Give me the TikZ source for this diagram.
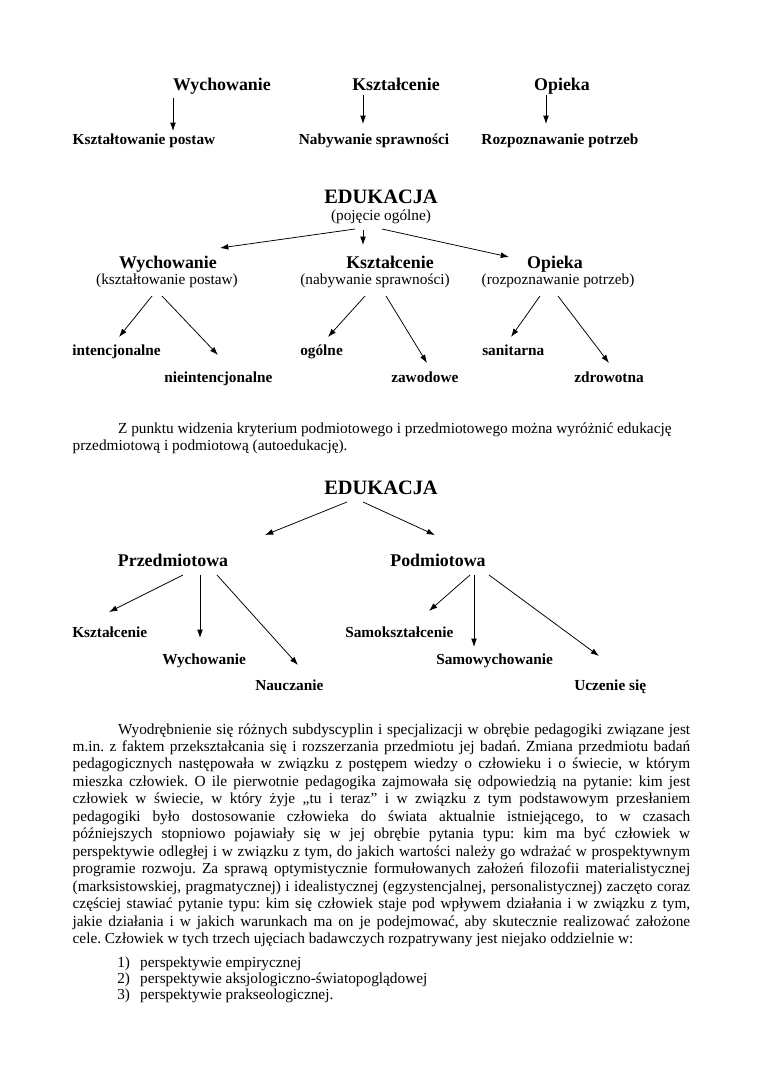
\documentclass[tikz,border=0pt]{standalone}
\usepackage{fontspec}
\setmainfont{Liberation Serif}
\usetikzlibrary{arrows.meta}
\tikzset{
  root/.style={font=\fontsize{16}{18}\selectfont\bfseries, inner sep=0, anchor=base},
  head/.style={font=\fontsize{14}{16}\selectfont\bfseries, inner sep=0, anchor=base},
  note/.style={font=\fontsize{12}{14}\selectfont, inner sep=0, anchor=base},
  leaf/.style={font=\fontsize{12}{14}\selectfont\bfseries, inner sep=0, anchor=base west},
  body/.style={font=\fontsize{12}{13.7}\selectfont, inner sep=0, anchor=base west},
  arr/.style={-{Latex[length=6.5pt,width=4.5pt]}, line width=0.6pt}
}
\begin{document}
\begin{tikzpicture}[x=0.7833pt, y=-0.7833pt]
\fill[white] (0,0) rectangle (760,1075);
\useasboundingbox (0,0) rectangle (760,1075);

% pierwszy schemat
\node[head] (w1) at (222,90) {Wychowanie};
\node[head] (k1) at (396,90) {Kształcenie};
\node[head] (o1) at (562,90) {Opieka};
\node[leaf, anchor=base] (ks1) at (144,144) {Kształtowanie postaw};
\node[leaf, anchor=base] (nb1) at (374,144) {Nabywanie sprawności};
\node[leaf, anchor=base] (rz1) at (560,144) {Rozpoznawanie potrzeb};
\draw[arr] ([shift={(-49,8)}]w1.base) -- ([shift={(29,-13)}]ks1.base);
\draw[arr] ([shift={(-33,5)}]k1.base) -- ([shift={(-11,-20)}]nb1.base);
\draw[arr] ([shift={(-16,5)}]o1.base) -- ([shift={(-14,-20)}]rz1.base);

% drugi schemat
\node[root] (edu1) at (381,203) {EDUKACJA};
\node[note] (pog) at (381,220) {(pojęcie ogólne)};
\node[head] (w2) at (168,268) {Wychowanie};
\node[head] (k2) at (390,268) {Kształcenie};
\node[head] (o2) at (555,268) {Opieka};
\node[note] (w2s) at (167,284) {(kształtowanie postaw)};
\node[note] (k2s) at (375,284) {(nabywanie sprawności)};
\node[note] (o2s) at (558,284) {(rozpoznawanie potrzeb)};
\draw[arr] ([shift={(-26,9)}]pog.base) -- ([shift={(52,-20)}]w2.base);
\draw[arr] ([shift={(-18,10)}]pog.base) -- ([shift={(-27,-23)}]k2.base);
\draw[arr] ([shift={(1,9)}]pog.base) -- ([shift={(-46,-11)}]o2.base);

\node[leaf] (intc) at (72,355) {intencjonalne};
\node[leaf] (nint) at (164,382) {nieintencjonalne};
\node[leaf] (ogol) at (300,355) {ogólne};
\node[leaf] (zaw) at (391,382) {zawodowe};
\node[leaf] (san) at (482,355) {sanitarna};
\node[leaf] (zdr) at (574,382) {zdrowotna};
\draw[arr] ([shift={(-15,12)}]w2s.base) -- ([shift={(47,-18)}]intc.base west);
\draw[arr] ([shift={(-5,12)}]w2s.base) -- ([shift={(54,-27)}]nint.base west);
\draw[arr] ([shift={(-10,12)}]k2s.base) -- ([shift={(28,-18)}]ogol.base west);
\draw[arr] ([shift={(11,12)}]k2s.base) -- ([shift={(36,-19)}]zaw.base west);
\draw[arr] ([shift={(-18,12)}]o2s.base) -- ([shift={(29,-18)}]san.base west);
\draw[arr] ([shift={(0,12)}]o2s.base) -- ([shift={(35,-19)}]zdr.base west);

% akapit
\node[body, text width=17cm, align=flush left] (par1) at (72.4,433)
  {\hspace*{1.25cm}Z punktu widzenia kryterium podmiotowego i przedmiotowego można wyróżnić edukację\\
   przedmiotową i podmiotową (autoedukację).};

% trzeci schemat
\node[root] (edu2) at (381,494) {EDUKACJA};
\node[head] (prz) at (173,566) {Przedmiotowa};
\node[head] (pod) at (438,566) {Podmiotowa};
\draw[arr] ([shift={(-34,8)}]edu2.base) -- ([shift={(92,-31)}]prz.base);
\draw[arr] ([shift={(-18,8)}]edu2.base) -- ([shift={(-3,-31)}]pod.base);

\node[leaf] (ks3) at (72,637) {Kształcenie};
\node[leaf] (wy3) at (162,664) {Wychowanie};
\node[leaf] (na3) at (255,690) {Nauczanie};
\node[leaf] (sk3) at (345,637) {Samokształcenie};
\node[leaf] (sw3) at (436,664) {Samowychowanie};
\node[leaf] (uc3) at (574,690) {Uczenie się};
\draw[arr] ([shift={(10,9)}]prz.base) -- ([shift={(37,-25)}]ks3.base west);
\draw[arr] ([shift={(27,9)}]prz.base) -- ([shift={(38,-26)}]wy3.base west);
\draw[arr] ([shift={(44,9)}]prz.base) -- ([shift={(43,-25)}]na3.base west);
\draw[arr] ([shift={(32,9)}]pod.base) -- ([shift={(84,-26)}]sk3.base west);
\draw[arr] ([shift={(36,9)}]pod.base) -- ([shift={(38,-17)}]sw3.base west);
\draw[arr] ([shift={(51,9)}]pod.base) -- ([shift={(25,-34)}]uc3.base west);

% drugi akapit
\node[body, text width=17cm, align=justify] (par2) at (72.4,734)
  {\frenchspacing\hyphenpenalty=10000\tolerance=10000
   \hspace*{1.25cm}Wyodrębnienie się różnych subdyscyplin i specjalizacji w obrębie pedagogiki związane jest\linebreak
   m.in. z faktem przekształcania się i rozszerzania przedmiotu jej badań. Zmiana przedmiotu badań\linebreak
   pedagogicznych następowała w związku z postępem wiedzy o człowieku i o świecie, w którym\linebreak
   mieszka człowiek. O ile pierwotnie pedagogika zajmowała się odpowiedzią na pytanie: kim jest\linebreak
   człowiek w świecie, w który żyje „tu i teraz” i w związku z tym podstawowym przesłaniem\linebreak
   pedagogiki było dostosowanie człowieka do świata aktualnie istniejącego, to w czasach\linebreak
   późniejszych stopniowo pojawiały się w jej obrębie pytania typu: kim ma być człowiek w\linebreak
   perspektywie odległej i w związku z tym, do jakich wartości należy go wdrażać w prospektywnym\linebreak
   programie rozwoju. Za sprawą optymistycznie formułowanych założeń filozofii materialistycznej\linebreak
   (marksistowskiej, pragmatycznej) i idealistycznej (egzystencjalnej, personalistycznej) zaczęto coraz\linebreak
   częściej stawiać pytanie typu: kim się człowiek staje pod wpływem działania i w związku z tym,\linebreak
   jakie działania i w jakich warunkach ma on je podejmować, aby skutecznie realizować założone\linebreak
   cele. Człowiek w tych trzech ujęciach badawczych rozpatrywany jest niejako oddzielnie w:};

% wyliczenie
\node[body] (p1) at (117,967) {\makebox[18pt][l]{1)}perspektywie empirycznej};
\node[body] (p2) at (117,983) {\makebox[18pt][l]{2)}perspektywie aksjologiczno-światopoglądowej};
\node[body] (p3) at (117,999) {\makebox[18pt][l]{3)}perspektywie prakseologicznej.};
\end{tikzpicture}
\end{document}
